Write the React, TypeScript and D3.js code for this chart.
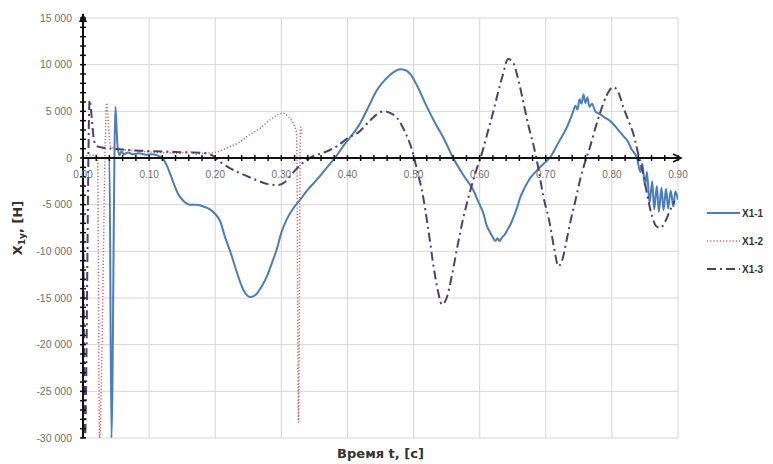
import React from "react";
import * as d3 from "d3";

const t1 = [0, 0.04, 0.043, 0.049, 0.052, 0.055, 0.058, 0.062, 0.068, 0.075, 0.085, 0.095, 0.105, 0.115, 0.12, 0.128, 0.136, 0.145, 0.152, 0.162, 0.172, 0.182, 0.192, 0.2, 0.207, 0.215, 0.225, 0.233, 0.243, 0.253, 0.262, 0.27, 0.278, 0.286, 0.293, 0.3, 0.308, 0.318, 0.328, 0.34, 0.354, 0.368, 0.381, 0.395, 0.419, 0.432, 0.444, 0.457, 0.47, 0.48, 0.488, 0.495, 0.505, 0.52, 0.533, 0.545, 0.56, 0.575, 0.59, 0.6, 0.605, 0.611, 0.616, 0.62, 0.624, 0.627, 0.63, 0.634, 0.638, 0.642, 0.646, 0.652, 0.658, 0.661, 0.668, 0.676, 0.687, 0.697, 0.706, 0.718, 0.732, 0.74, 0.745, 0.748, 0.751, 0.754, 0.757, 0.76, 0.763, 0.766, 0.77, 0.775, 0.782, 0.79, 0.797, 0.805, 0.812, 0.818, 0.823, 0.83, 0.838, 0.843, 0.846, 0.85, 0.853, 0.857, 0.861, 0.864, 0.868, 0.871, 0.875, 0.878, 0.882, 0.885, 0.889, 0.893, 0.896, 0.9];
const v1 = [0, 0, -30000, 5500, 1500, 300, 700, 400, 600, 400, 500, 350, 400, 200, 0, -1000, -2500, -4000, -4600, -5000, -5000, -5200, -5500, -6000, -6700, -8500, -10500, -12300, -14200, -14900, -14600, -13800, -12700, -11200, -9800, -8000, -6600, -5400, -4500, -3400, -2300, -1100, 0, 1400, 3700, 5500, 7200, 8400, 9200, 9500, 9400, 9000, 7800, 5500, 3700, 2200, 0, -1800, -3400, -5000, -5800, -7300, -8000, -8500, -8900, -8600, -8900, -8500, -8200, -7700, -7200, -6200, -5000, -4300, -3200, -2200, -1300, -600, 0, 1500, 3300, 4700, 5600, 5200, 6300, 5800, 6800, 5900, 6500, 5500, 5800, 5000, 4700, 4300, 4000, 3400, 2800, 2300, 1900, 900, 0, -1500, -600, -3000, -1500, -4800, -2500, -5500, -3000, -5800, -3200, -5600, -3300, -5400, -3500, -5200, -3600, -4500];

const t2 = [0, 0.022, 0.025, 0.036, 0.039, 0.042, 0.05, 0.06, 0.075, 0.09, 0.11, 0.13, 0.145, 0.155, 0.16, 0.165, 0.17, 0.18, 0.195, 0.205, 0.215, 0.225, 0.237, 0.25, 0.268, 0.283, 0.295, 0.303, 0.311, 0.318, 0.323, 0.326, 0.329, 0.331];
const v2 = [200, 300, -30000, 5900, 3000, 1200, 1000, 900, 800, 700, 600, 550, 500, 600, 400, 700, 400, 500, 550, 700, 1000, 1300, 1700, 2400, 3200, 4100, 4650, 4800, 4400, 3700, 2600, -28300, 3300, 2600];

const t3 = [0, 0.003, 0.01, 0.013, 0.016, 0.02, 0.03, 0.045, 0.06, 0.08, 0.1, 0.12, 0.14, 0.16, 0.18, 0.195, 0.205, 0.22, 0.24, 0.26, 0.28, 0.295, 0.305, 0.315, 0.328, 0.345, 0.365, 0.385, 0.4, 0.419, 0.434, 0.445, 0.455, 0.465, 0.475, 0.485, 0.492, 0.498, 0.505, 0.513, 0.522, 0.53, 0.537, 0.543, 0.55, 0.558, 0.566, 0.575, 0.585, 0.595, 0.605, 0.613, 0.62, 0.627, 0.635, 0.643, 0.65, 0.657, 0.666, 0.674, 0.681, 0.689, 0.696, 0.706, 0.713, 0.719, 0.725, 0.731, 0.737, 0.745, 0.752, 0.76, 0.767, 0.775, 0.782, 0.792, 0.802, 0.81, 0.817, 0.825, 0.832, 0.84, 0.847, 0.855, 0.861, 0.867, 0.873, 0.88, 0.888, 0.895];
const v3 = [0, -30000, 6200, 4500, 2200, 1300, 1100, 1000, 900, 800, 750, 700, 650, 600, 550, 300, -300, -1000, -1700, -2300, -2800, -2900, -2600, -1800, -800, 100, 600, 1300, 2100, 2900, 4000, 4700, 5000, 4800, 4300, 3100, 2000, 800, -1200, -3600, -7500, -11500, -14300, -15700, -15000, -12600, -9600, -6500, -3700, -1300, 900, 3000, 4800, 6800, 8900, 10600, 10300, 8800, 6000, 3400, 1500, -1200, -4000, -7000, -9800, -11600, -10900, -9000, -6900, -4500, -2300, -300, 1200, 3200, 4800, 6700, 7600, 7000, 5500, 4000, 2700, 400, -1600, -4500, -6300, -7300, -7500, -6900, -5600, -4600];

const seriesNames = ["X1-1", "X1-2", "X1-3"];
const xTicks = [0, 0.1, 0.2, 0.3, 0.4, 0.5, 0.6, 0.7, 0.8, 0.9];
const yTicks = [15000, 10000, 5000, 0, -5000, -10000, -15000, -20000, -25000, -30000];

const W = 773, H = 464;
const L = 83, R = 678, T = 18, B = 438;

export default function App() {
  const x = d3.scaleLinear().domain([0, 0.9]).range([L, R]);
  const y = d3.scaleLinear().domain([-30000, 15000]).range([B, T]);
  const mk = (ts: number[], vs: number[]) =>
    d3.line<number>().x((_, i) => x(ts[i])).y((d) => y(d)).curve(d3.curveMonotoneX)(vs) || "";
  const fmtY = (v: number) => {
    const s = Math.abs(v).toString().replace(/\B(?=(\d{3})+(?!\d))/g, " ");
    return (v < 0 ? "-" : "") + s;
  };
  const styles = [
    { color: "#4a7db9", width: 2, dash: "" },
    { color: "#d0626a", width: 1.5, dash: "1.2,2" },
    { color: "#4f3f72", width: 2, dash: "9,4,2,4" },
  ];
  const paths = [mk(t1, v1), mk(t2, v2), mk(t3, v3)];
  const y0 = y(0);
  const xMinor = d3.range(0, 0.9001, 0.02);
  const yMinor = d3.range(-30000, 15001, 1000);
  const legY = [213, 241, 269];
  const tickFont = "'Liberation Sans', Arial, sans-serif";
  return (
    <svg width={W} height={H} style={{ position: "absolute", left: 0, top: 0, background: "#fff" }}>
      <defs>
        <clipPath id="plot">
          <rect x={L} y={T} width={R - L} height={B - T} />
        </clipPath>
      </defs>
      {xTicks.map((t) => (
        <line key={"gx" + t} x1={x(t)} x2={x(t)} y1={T} y2={B} stroke="#d6d6d6" strokeWidth={1} />
      ))}
      {yTicks.map((v) => (
        <line key={"gy" + v} x1={L} x2={R} y1={y(v)} y2={y(v)} stroke="#d6d6d6" strokeWidth={1} />
      ))}
      <g clipPath="url(#plot)">
        {paths.map((d, i) => (
          <path key={i} d={d} fill="none" stroke={styles[i].color} strokeWidth={styles[i].width}
            strokeDasharray={styles[i].dash || undefined} strokeLinejoin="round" />
        ))}
      </g>
      <line x1={L} x2={L} y1={B} y2={T - 4} stroke="#111" strokeWidth={2} />
      <path d={`M${L - 4},${T + 4} L${L},${T - 5} L${L + 4},${T + 4} Z`} fill="#111" />
      <line x1={L} x2={R + 3} y1={y0} y2={y0} stroke="#111" strokeWidth={2} />
      <path d={`M${R - 5},${y0 - 4} L${R + 3},${y0} L${R - 5},${y0 + 4}`} fill="none" stroke="#111" strokeWidth={1.6} />
      {yMinor.map((v) => (
        <line key={"ym" + v} x1={L - 3} x2={L + 3} y1={y(v)} y2={y(v)} stroke="#111" strokeWidth={1.5} />
      ))}
      {xMinor.map((t) => (
        <line key={"xm" + t} x1={x(t)} x2={x(t)} y1={y0 - 3} y2={y0 + 3} stroke="#111" strokeWidth={1.5} />
      ))}
      {yTicks.map((v) => (
        <text key={"yl" + v} x={L - 11} y={y(v)} dy="0.35em" textAnchor="end" fontSize={10.5}
          fontFamily={tickFont} fill="#707070">{fmtY(v)}</text>
      ))}
      {xTicks.map((t) => (
        <text key={"xl" + t} x={x(t)} y={y0 + 16} dy="0.35em" textAnchor="middle" fontSize={10}
          fontFamily={tickFont} fill="#707070">{t.toFixed(2)}</text>
      ))}
      <text x={(L + R) / 2} y={453} dy="0.35em" textAnchor="middle" fontSize={13} fontWeight="bold"
        fontFamily="'DejaVu Sans', sans-serif" fill="#333">Время t, [с]</text>
      <text transform={`translate(22,${(T + B) / 2}) rotate(-90)`} textAnchor="middle" fontSize={13}
        fontWeight="bold" fontFamily="'DejaVu Sans', sans-serif" fill="#333">
        X<tspan fontSize={9} dy="3">1y</tspan><tspan dy="-3">, [H]</tspan>
      </text>
      {seriesNames.map((n, i) => (
        <g key={n}>
          <line x1={707} x2={740} y1={legY[i]} y2={legY[i]} stroke={styles[i].color} strokeWidth={styles[i].width}
            strokeDasharray={styles[i].dash || undefined} />
          <text x={742} y={legY[i]} dy="0.35em" fontSize={10} fontWeight="bold" fontFamily={tickFont} fill="#333">{n}</text>
        </g>
      ))}
    </svg>
  );
}
